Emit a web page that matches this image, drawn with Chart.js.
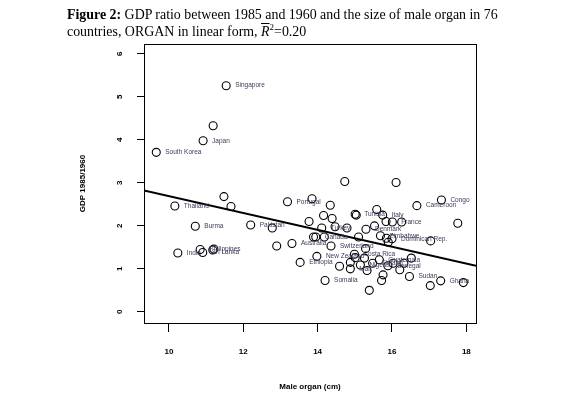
<!DOCTYPE html>
<html><head><meta charset="utf-8">
<script src="https://cdn.jsdelivr.net/npm/chart.js@4/dist/chart.umd.min.js"></script>
<style>
html,body{margin:0;padding:0;background:#fff;}
#wrap{position:relative;width:565px;height:393px;overflow:hidden;}
canvas{position:absolute;left:0;top:0;}
#title{position:absolute;left:67px;top:6px;font-family:"Liberation Serif","Times New Roman",serif;font-size:13.9px;line-height:17px;color:#000;white-space:nowrap;}
#title sup{font-size:9px;line-height:0;}
</style></head><body>
<div id="wrap">
<canvas id="c" width="565" height="393"></canvas>
<div id="title"><b>Figure 2:</b> GDP ratio between 1985 and 1960 and the size of male organ in 76<br>countries, ORGAN in linear form, <i style="text-decoration:overline">R</i><sup>2</sup>=0.20</div>
</div>
<script>
// ---- data ----
const countries = ["Singapore","","Japan","South Korea","","Thailand","","Portugal","Burma","Pakistan",
  "","","Australia","India","Philippines","Sri Lanka","","","Ethiopia","",
  "","","","","Tunisia","","","Italy","","France",
  "","","Turkey","","","Denmark","","Zimbabwe","","Dominican Rep.",
  "","","","Congo","Cameroon","","","Canada","","",
  "Switzerland","","New Zealand","Costa Rica","","","Guatemala","","","Mali",
  "Nigeria","","Finland","Senegal","","","","","","",
  "Sudan","","Ghana","","Somalia",""];
const organSize = [11.54,11.19,10.92,9.66,11.48,10.16,11.67,13.19,10.71,12.20,
  12.78,12.90,13.31,10.24,10.84,10.91,11.18,11.21,13.53,14.73,
  13.85,14.34,14.16,14.39,15.01,15.04,15.59,15.75,15.84,16.01,
  16.26,13.77,14.11,14.47,14.79,15.30,15.53,15.69,15.85,16.00,
  15.90,17.04,16.11,17.33,16.67,17.77,13.89,13.95,14.18,15.10,
  14.36,15.29,13.98,14.99,15.01,15.26,15.66,14.88,14.59,14.88,
  15.15,15.33,15.48,15.89,16.03,16.21,16.52,16.32,15.76,15.72,
  16.47,17.03,17.31,17.92,14.20,15.39];
const gdpRatio = [5.26,4.33,3.98,3.71,2.68,2.46,2.45,2.56,1.99,2.02,
  1.95,1.53,1.59,1.37,1.45,1.38,1.44,1.46,1.15,3.03,
  2.63,2.48,2.24,2.17,2.27,2.25,2.38,2.25,2.10,2.09,
  2.09,2.10,1.95,1.98,1.95,1.92,2.00,1.77,1.71,1.70,
  1.62,1.65,3.01,2.60,2.47,2.06,1.74,1.74,1.74,1.74,
  1.53,1.47,1.29,1.34,1.26,1.25,1.21,1.15,1.06,1.00,
  1.09,0.96,1.13,1.07,1.13,0.98,1.25,1.13,0.86,0.73,
  0.82,0.61,0.72,0.68,0.73,0.50];
const fitX = [9.33, 18.26];
const fitY = [2.82, 1.07];
const xTicks = [10,12,14,16,18];
const yTicks = [0,1,2,3,4,5,6];

const sans = "'Liberation Sans', Arial, Helvetica, sans-serif";

const decor = {
  id:'decor',
  afterDatasetsDraw(chart){
    const {ctx, chartArea:a, scales} = chart;
    ctx.save();
    ctx.strokeStyle = '#000'; ctx.lineWidth = 1;
    ctx.strokeRect(Math.round(a.left)+0.5, Math.round(a.top)+0.5, Math.round(a.right-a.left), Math.round(a.bottom-a.top));
    // point labels
    ctx.font = "6.5px " + sans;
    ctx.fillStyle = '#3a3a5c';
    ctx.textAlign = 'left'; ctx.textBaseline = 'middle';
    organSize.forEach((x,i)=>{
      if(!countries[i]) return;
      ctx.fillText(countries[i], scales.x.getPixelForValue(x)+9, scales.y.getPixelForValue(gdpRatio[i]));
    });
    // rotated y tick labels
    ctx.fillStyle = '#000';
    ctx.font = "bold 8px " + sans;
    ctx.textAlign = 'center'; ctx.textBaseline = 'middle';
    yTicks.forEach(v=>{
      const py = scales.y.getPixelForValue(v);
      ctx.save(); ctx.translate(120, py); ctx.rotate(-Math.PI/2);
      ctx.fillText(String(v), 0, 0); ctx.restore();
    });
    ctx.restore();
  }
};

new Chart(document.getElementById('c'), {
  type:'scatter',
  data:{datasets:[
    {data: fitX.map((x,i)=>({x, y:fitY[i]})), showLine:true, borderColor:'#000', borderWidth:2, pointRadius:0, fill:false},
    {data: organSize.map((x,i)=>({x, y:gdpRatio[i]})), pointRadius:4, pointBorderColor:'#000',
     pointBackgroundColor:'rgba(0,0,0,0)', pointBorderWidth:1.1, showLine:false}
  ]},
  options:{
    responsive:false, animation:false, devicePixelRatio:1,
    plugins:{legend:{display:false}, tooltip:{enabled:false}},
    layout:{padding:{left:0, top:44, right:89, bottom:0}},
    scales:{
      x:{type:'linear', min:9.33, max:18.26,
        afterBuildTicks: s=>{ s.ticks = xTicks.map(v=>({value:v})); },
        afterFit: s=>{ s.height = 70; },
        grid:{display:true, drawOnChartArea:false, drawTicks:true, tickLength:9, color:'#000', lineWidth:1},
        border:{display:true, color:'#000', width:1},
        ticks:{font:{family:sans, size:8, weight:'bold'}, color:'#000', padding:15, maxRotation:0, minRotation:0,
          callback:v=>String(v)},
        title:{display:true, text:'Male organ (cm)', color:'#000', font:{family:sans, size:8, weight:'bold'}, padding:{top:0, bottom:1}}
      },
      y:{type:'linear', min:-0.26, max:6.23,
        afterBuildTicks: s=>{ s.ticks = yTicks.map(v=>({value:v})); },
        afterFit: s=>{ s.width = 144; },
        grid:{display:true, drawOnChartArea:false, drawTicks:true, tickLength:7, color:'#000', lineWidth:1},
        border:{display:true, color:'#000', width:1},
        ticks:{color:'rgba(0,0,0,0)', font:{family:sans, size:8}, callback:v=>String(v)},
        title:{display:true, text:'GDP 1985/1960', color:'#000', font:{family:sans, size:8, weight:'bold'}, padding:{top:78, bottom:0}}
      }
    }
  },
  plugins:[decor]
});
</script>
</body></html>
